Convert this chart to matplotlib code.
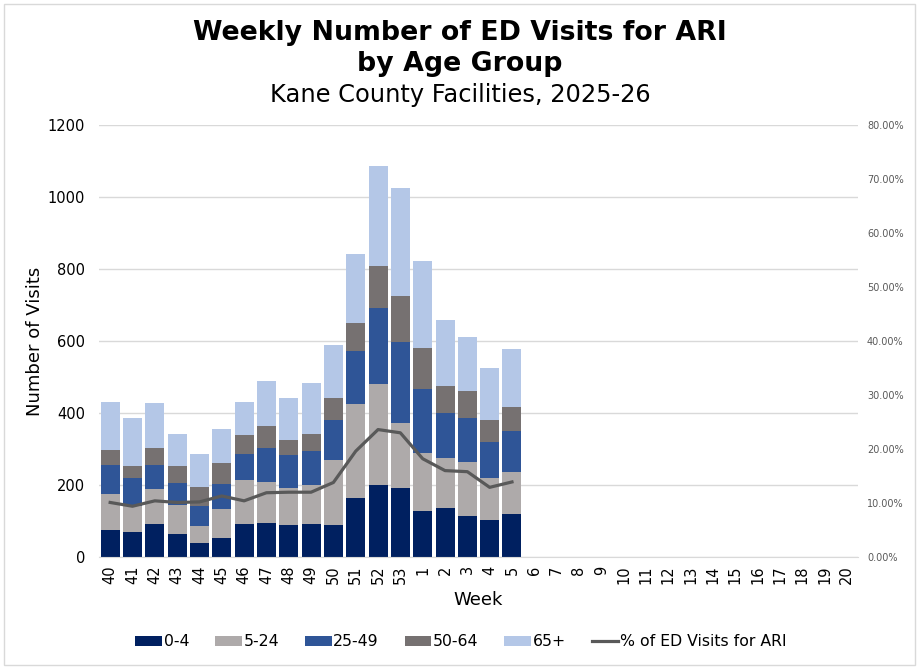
import matplotlib
matplotlib.use("Agg")
import matplotlib.pyplot as plt
import numpy as np
from matplotlib.lines import Line2D
from matplotlib.patches import Patch, Rectangle

weeks = [str(w) for w in list(range(40, 54)) + list(range(1, 21))]

age_0_4   = [76, 70, 92, 65, 40, 54, 92, 95, 90, 92, 90, 165, 201, 193, 129, 137, 115, 104, 120]
age_5_24  = [100, 73, 98, 80, 47, 80, 122, 114, 102, 108, 180, 261, 280, 180, 161, 139, 150, 116, 117]
age_25_49 = [80, 77, 66, 61, 56, 69, 73, 94, 92, 95, 111, 147, 211, 224, 177, 125, 122, 100, 114]
age_50_64 = [42, 34, 47, 48, 52, 59, 53, 62, 42, 47, 61, 78, 117, 129, 114, 75, 75, 61, 66]
age_65p   = [133, 133, 125, 88, 92, 94, 91, 125, 117, 142, 148, 191, 278, 300, 242, 183, 150, 145, 162]
pct_ari   = [10.1, 9.4, 10.4, 10.1, 10.2, 11.3, 10.4, 11.9, 12.0, 12.0, 13.8, 19.6, 23.6, 23.0, 18.2, 16.0, 15.8, 12.9, 13.9]

series = [
    ("0-4", age_0_4, "#002060"),
    ("5-24", age_5_24, "#AEAAAA"),
    ("25-49", age_25_49, "#2F5597"),
    ("50-64", age_50_64, "#767171"),
    ("65+", age_65p, "#B4C7E7"),
]

plt.rcParams['font.family'] = ['DejaVu Sans']
fig = plt.figure(figsize=(9.2, 6.69), dpi=100)
ax = fig.add_axes([99/920, 1-557/669, (858-99)/920, (557-125)/669])

x_all = np.arange(len(weeks))
n = len(age_0_4)
x = x_all[:n]
bottom = np.zeros(n)
for name, vals, col in series:
    ax.bar(x, vals, bottom=bottom, width=0.85, color=col, label=name, zorder=2)
    bottom += np.array(vals)

ax.set_xlim(-0.5, len(weeks) - 0.5)
ax.set_ylim(0, 1200)
ax.set_yticks(range(0, 1201, 200))
ax.yaxis.grid(True, color="#D9D9D9", linewidth=1, zorder=0)
ax.set_axisbelow(True)
for s in ["top", "left", "right"]:
    ax.spines[s].set_visible(False)
ax.spines["bottom"].set_color("#D9D9D9")
ax.tick_params(axis="both", length=0)
ax.tick_params(axis="y", labelsize=10.5, pad=10)
ax.set_xticks(x_all)
ax.set_xticklabels(weeks, rotation=90, fontsize=10.5)
ax.tick_params(axis="x", pad=6)
ax.set_ylabel("Number of Visits", fontsize=13, labelpad=3)
ax.set_xlabel("Week", fontsize=13, labelpad=5)

ax2 = ax.twinx()
ax2.plot(x, pct_ari, color="#595959", linewidth=2.3, zorder=5)
ax2.set_ylim(0, 80)
ax2.set_yticks(range(0, 81, 10))
ax2.set_yticklabels([f"{v:.2f}%" for v in range(0, 81, 10)], fontsize=7, color="#595959")
ax2.tick_params(axis="y", length=0, pad=6.5)
for s in ["top", "left", "right", "bottom"]:
    ax2.spines[s].set_visible(False)

fig.text(0.5, 1-33/669, "Weekly Number of ED Visits for ARI", ha="center", va="center",
         fontsize=19.3, fontweight="bold")
fig.text(0.5, 1-64/669, "by Age Group", ha="center", va="center",
         fontsize=19.3, fontweight="bold")
fig.text(0.5, 1-95/669, "Kane County Facilities, 2025-26", ha="center", va="center",
         fontsize=17.4)

handles = [Patch(facecolor=c, label=nm) for nm, _, c in series]
handles.append(Line2D([0], [0], color="#595959", linewidth=2.3, label="% of ED Visits for ARI"))
fig.legend(handles=handles, loc="center", bbox_to_anchor=(0.501, 1-642/669), ncol=6,
           frameon=False, fontsize=11.3, handlelength=1.7, handleheight=0.55,
           columnspacing=1.65, handletextpad=0.1)

fig.patches.append(Rectangle((4/920, 4/669), 911/920, 661/669, transform=fig.transFigure,
                             fill=False, edgecolor="#D9D9D9", linewidth=1))

fig.savefig("out.png", dpi=100)
